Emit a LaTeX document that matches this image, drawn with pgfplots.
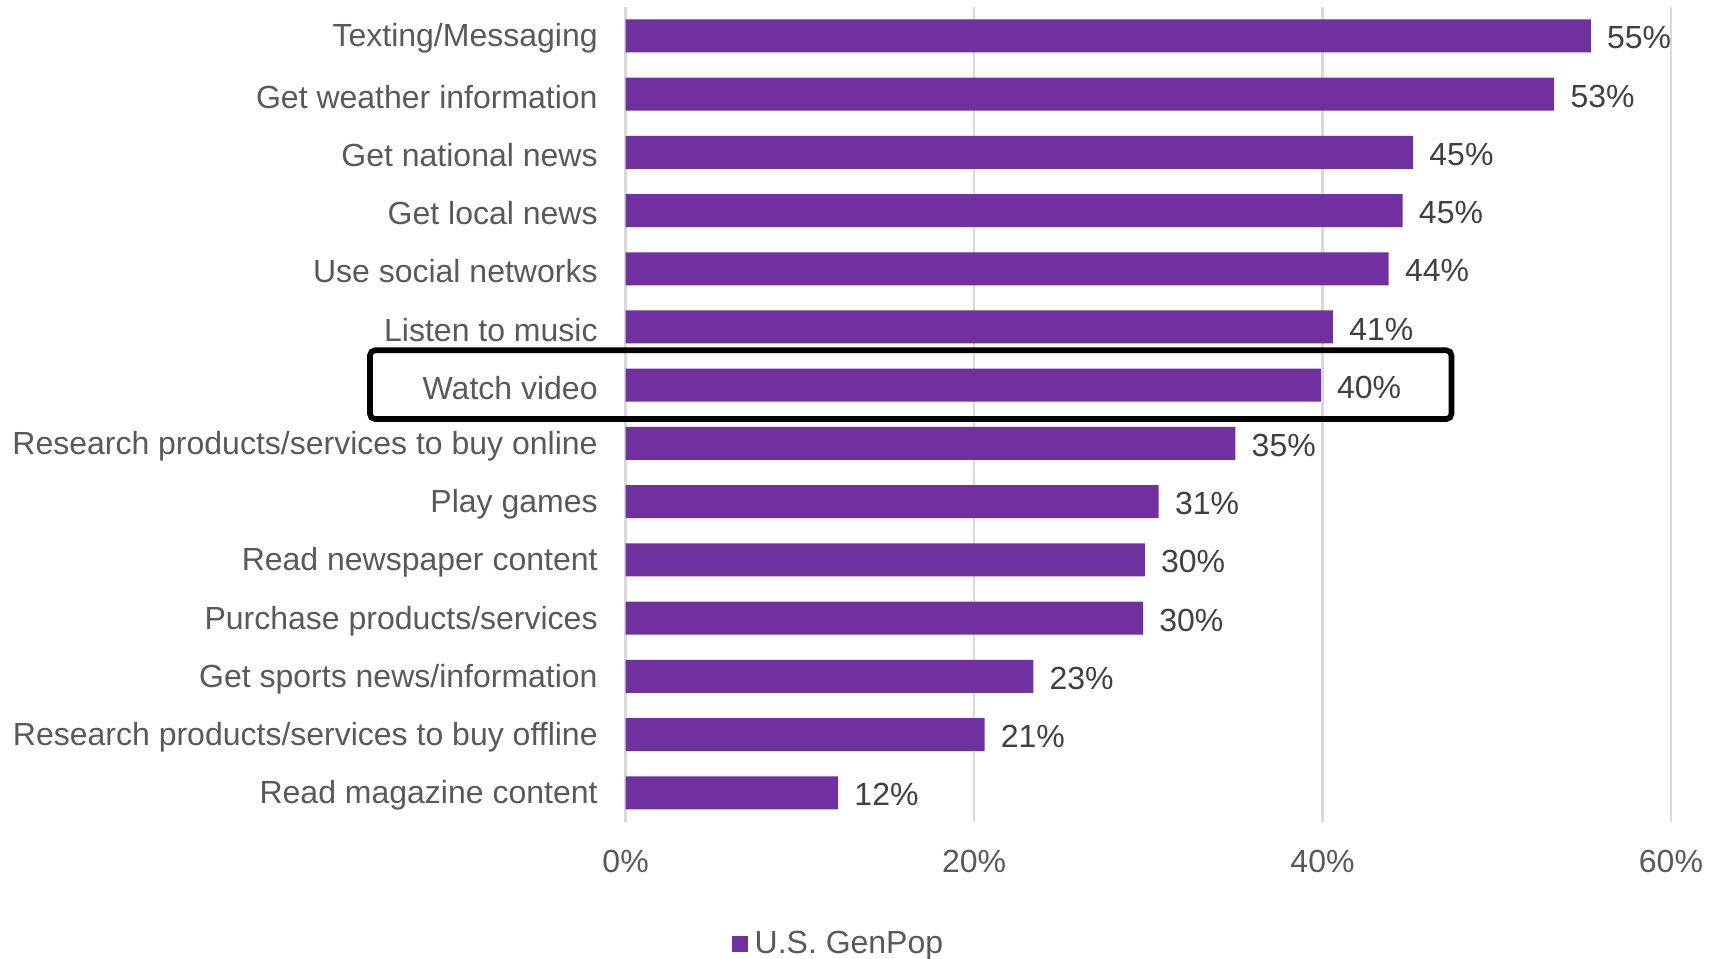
\documentclass[border=0pt]{standalone}
\usepackage{pgfplots}
\pgfplotsset{compat=1.18}
\usepackage{fontspec}
\setmainfont{Liberation Sans}
\definecolor{barc}{HTML}{7030A0}
\definecolor{lab}{HTML}{595959}
\definecolor{vlab}{HTML}{404040}
\definecolor{gridc}{HTML}{D9D9D9}
\begin{document}
\fontsize{9.6}{11.5}\selectfont
\begin{tikzpicture}
\begin{axis}[
  at={(187.68pt,40.8pt)}, anchor=south west,
  scale only axis,
  width=313.6pt, height=244.6pt,
  xbar, bar width=9.9pt,
  xmin=0, xmax=60,
  ymin=-0.5, ymax=13.5,
  y dir=reverse,
  xtick={0,20,40,60},
  xticklabels={0\%,20\%,40\%,60\%},
  ytick={0,...,13},
  yticklabels={Texting/Messaging,Get weather information,Get national news,Get local news,Use social networks,Listen to music,Watch video,Research products/services to buy online,Play games,Read newspaper content,Purchase products/services,Get sports news/information,Research products/services to buy offline,Read magazine content},
  major tick length=0,
  xmajorgrids, grid style={gridc, line width=0.8pt},
  axis line style={draw=none},
  tick label style={font=\fontsize{9.6}{11.5}\selectfont, text=lab},
  xticklabel style={yshift=-5pt},
  yticklabel style={xshift=-5pt, yshift=-0.8pt},
  /pgf/number format/assume math mode=true,
  point meta=explicit,
  nodes near coords={\pgfmathprintnumber[fixed,precision=0]{\pgfplotspointmeta}\%},
  nodes near coords style={font=\fontsize{9.6}{11.5}\selectfont, text=vlab, anchor=west, xshift=1.5pt, yshift=-0.6pt},
  legend style={at={(0.206,-0.150)}, anchor=center, draw=none, fill=none, font=\fontsize{9.6}{11.5}\selectfont, text=lab, inner sep=0pt},
  legend image code/.code={\fill[barc] (0pt,-2.4pt) rectangle (4.8pt,2.4pt);},
  clip=false,
]
\addplot[fill=barc, draw=none] table[x=x, y=y, meta=m] {
x y m
55.4 0 55
53.3 1 53
45.2 2 45
44.6 3 45
43.8 4 44
40.6 5 41
39.9 6 40
35.0 7 35
30.6 8 31
29.8 9 30
29.7 10 30
23.4 11 23
20.6 12 21
12.2 13 12
};
\addlegendentry{U.S. GenPop}
\draw[black, line width=1.7pt, rounded corners=1.5pt] (axis cs:-14.67,5.40) rectangle (axis cs:47.4,6.58);
\end{axis}
\pgfresetboundingbox
\useasboundingbox (0,0) rectangle (515.4pt,287.4pt);
\end{tikzpicture}
\end{document}
